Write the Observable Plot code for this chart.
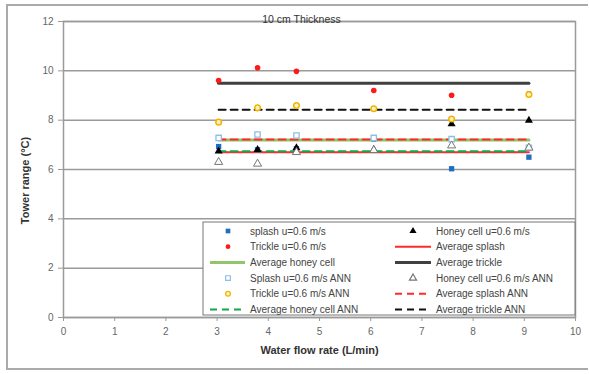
<!DOCTYPE html>
<html><head><meta charset="utf-8">
<script src="https://cdn.jsdelivr.net/npm/d3@7"></script>
<script src="https://cdn.jsdelivr.net/npm/@observablehq/plot@0.6"></script>
<style>
body{margin:0;background:#fff;}
#wrap{position:relative;width:589px;height:374px;overflow:hidden;}
#border{position:absolute;left:6px;top:4px;width:582px;height:366px;border:2px solid #aaa;box-sizing:border-box;border-right:none;}
</style></head>
<body><div id="wrap"><div id="border"></div></div>
<script>
const flow = [3.03, 3.79, 4.55, 6.06, 7.58, 9.09];
const splash = [6.93, 6.80, 6.84, 7.24, 6.03, 6.50];
const trickle = [9.61, 10.12, 9.98, 9.20, 9.01, 9.07];
const honey = [6.74, 6.80, 6.88, 6.80, 7.85, 7.99];
const splashANN = [7.28, 7.42, 7.38, 7.28, 7.23, 6.88];
const trickleANN = [7.92, 8.50, 8.59, 8.46, 8.05, 9.04];
const honeyANN = [6.30, 6.23, 6.70, 6.78, 6.97, 6.88];
const avgNames = ["Average splash","Average honey cell","Average trickle","Average splash ANN","Average honey cell ANN","Average trickle ANN"];
const avgValues = [6.70, 7.20, 9.50, 7.22, 6.74, 8.42];
const xTicks = [0,1,2,3,4,5,6,7,8,9,10];
const yTicks = [0,2,4,6,8,10,12];
const title = "10 cm Thickness";
const xLabel = "Water flow rate (L/min)";
const yLabel = "Tower range (°C)";

const pts = (ys) => flow.map((x,i)=>({x, y: ys[i]}));
const xr = d3.extent(flow);
const avgLine = (i) => xr.map(x=>({x, y: avgValues[i]}));

const avgStyles = [
  {stroke:"#ff2a2a", strokeWidth:2},
  {stroke:"#92c46a", strokeWidth:3},
  {stroke:"#404040", strokeWidth:3},
  {stroke:"#ff2a2a", strokeWidth:2, strokeDasharray:"7,5"},
  {stroke:"#12a84a", strokeWidth:2, strokeDasharray:"7,5"},
  {stroke:"#111", strokeWidth:2, strokeDasharray:"7,5"}
];
const avgOrder = [1,0,2,3,4,5];

const chart = Plot.plot({
  width:589, height:374,
  marginLeft:63, marginRight:14, marginTop:21, marginBottom:57,
  style:{fontFamily:"Liberation Sans, Arial, sans-serif", fontSize:"10px", color:"#555", background:"transparent"},
  x:{domain:[0,10], ticks:xTicks, label:null},
  y:{domain:[0,12], ticks:yTicks, label:null},
  marks:[
    Plot.gridY(yTicks, {stroke:"#9a9a9a", strokeOpacity:1, strokeWidth:1.5}),
    Plot.frame({stroke:"#9a9a9a", strokeWidth:1.5}),
    Plot.axisX({ticks:xTicks, tickSize:4, tickPadding:6, stroke:"#9a9a9a", fill:"#666", label:null}),
    Plot.axisY({ticks:yTicks, tickSize:5, tickPadding:5, stroke:"#9a9a9a", fill:"#666", label:null}),
    ...avgOrder.map(i => Plot.line(avgLine(i), {x:"x", y:"y", ...avgStyles[i]})),
    Plot.dot(pts(splash), {x:"x", y:"y", symbol:"square", r:3, fill:"#1f6fc0"}),
    Plot.dot(pts(honey), {x:"x", y:"y", symbol:"triangle", r:3, fill:"#000"}),
    Plot.dot(pts(trickle), {x:"x", y:"y", r:2.8, fill:"#ff1a1a"}),
    Plot.dot(pts(splashANN), {x:"x", y:"y", symbol:"square", r:3, fill:"white", stroke:"#8fbde8", strokeWidth:1.3}),
    Plot.dot(pts(honeyANN), {x:"x", y:"y", symbol:"triangle", r:3, fill:"white", stroke:"#777", strokeWidth:1}),
    Plot.dot(pts(trickleANN), {x:"x", y:"y", r:2.8, fill:"#fff3c0", stroke:"#f2b400", strokeWidth:1.5}),
    Plot.text([title], {frameAnchor:"top", dx:-18, dy:-6, fill:"#333", fontSize:10.5, textAnchor:"middle"}),
    Plot.text([xLabel], {frameAnchor:"bottom", dy:36, fill:"#333", fontSize:11, fontWeight:"bold", textAnchor:"middle"}),
    Plot.text([yLabel], {frameAnchor:"left", dx:-38, dy:11, rotate:-90, fill:"#333", fontSize:11, fontWeight:"bold", textAnchor:"middle"})
  ]
});
document.getElementById("wrap").appendChild(chart);

// Legend
const legendItems = [
  {label:"splash u=0.6 m/s", kind:"dot", sym:d3.symbolSquare, fill:"#1f6fc0"},
  {label:"Honey cell u=0.6 m/s", kind:"dot", sym:d3.symbolTriangle, fill:"#000"},
  {label:"Trickle u=0.6 m/s", kind:"dot", sym:d3.symbolCircle, fill:"#ff1a1a"},
  {label:"Average splash", kind:"line", ...avgStyles[0]},
  {label:"Average honey cell", kind:"line", ...avgStyles[1]},
  {label:"Average trickle", kind:"line", ...avgStyles[2]},
  {label:"Splash u=0.6 m/s ANN", kind:"dot", sym:d3.symbolSquare, fill:"white", stroke:"#8fbde8"},
  {label:"Honey cell u=0.6 m/s ANN", kind:"dot", sym:d3.symbolTriangle, fill:"white", stroke:"#777"},
  {label:"Trickle u=0.6 m/s ANN", kind:"dot", sym:d3.symbolCircle, fill:"#fff3c0", stroke:"#f2b400"},
  {label:"Average splash ANN", kind:"line", ...avgStyles[3]},
  {label:"Average honey cell ANN", kind:"line", ...avgStyles[4]},
  {label:"Average trickle ANN", kind:"line", ...avgStyles[5]}
];
const svg = d3.select(chart);
const lg = svg.append("g").attr("transform","translate(203,222)");
lg.append("rect").attr("x",0).attr("y",0).attr("width",372).attr("height",93)
  .attr("fill","white").attr("stroke","#777").attr("stroke-width",1);
const colX = [{sw:25, l0:7, l1:42, tx:47},{sw:210, l0:192, l1:228, tx:233}];
legendItems.forEach((it,i)=>{
  const c = colX[i%2], row = Math.floor(i/2);
  const y = 9 + row*15.7;
  if(it.kind==="line"){
    lg.append("line").attr("x1",c.l0).attr("x2",c.l1).attr("y1",y).attr("y2",y)
      .attr("stroke",it.stroke).attr("stroke-width",it.strokeWidth)
      .attr("stroke-dasharray",it.strokeDasharray||null);
  } else {
    lg.append("path").attr("d",d3.symbol(it.sym, it.sym===d3.symbolCircle?18:22)())
      .attr("transform",`translate(${c.sw},${y})`)
      .attr("fill",it.fill).attr("stroke",it.stroke||"none").attr("stroke-width",1.2);
  }
  lg.append("text").attr("x",c.tx).attr("y",y).attr("dy","0.35em")
    .attr("text-anchor","start")
    .attr("font-family","Liberation Sans, Arial, sans-serif").attr("font-size",10)
    .attr("fill","#444").text(it.label);
});
</script></body></html>
